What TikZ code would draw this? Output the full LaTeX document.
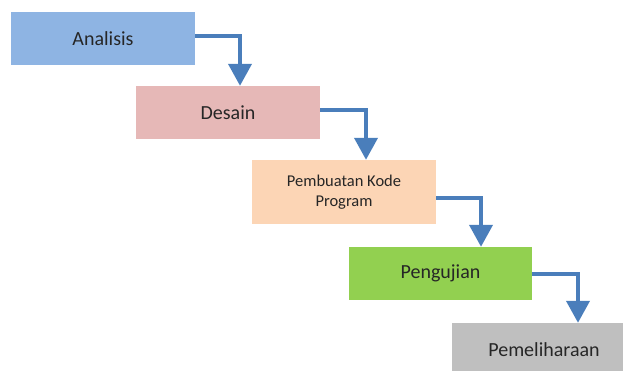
\documentclass[tikz,border=0pt]{standalone}
\usepackage{fontspec}
\setmainfont{Carlito}
\usetikzlibrary{arrows.meta}

\definecolor{biru}{RGB}{142,180,227}
\definecolor{merah}{RGB}{230,184,183}
\definecolor{oranye}{RGB}{252,213,181}
\definecolor{hijau}{RGB}{146,208,80}
\definecolor{abu}{RGB}{191,191,191}
\definecolor{panah}{RGB}{74,126,187}
\definecolor{teks}{RGB}{38,38,38}

\tikzset{
  tahap/.style={rectangle, inner sep=0pt, minimum width=184pt,
    minimum height=53pt, text=teks, font=\fontsize{20}{22}\selectfont,
    align=center},
  alur/.style={draw=panah, line width=4pt,
    -{Triangle[width=23pt,length=22pt]}}
}

\begin{document}
\begin{tikzpicture}[x=1pt,y=-1pt]
\useasboundingbox (0,0) rectangle (623,371);
\clip (0,0) rectangle (623,371);

\node[tahap, fill=biru] (analisis) at (103,38.5) {Analisis};
\node[tahap, fill=merah] (desain) at (228,112.5) {Desain};
\node[tahap, fill=oranye, minimum height=64pt,
   font=\fontsize{16.5}{19.5}\selectfont] (kode) at (344,192)
  {Pembuatan Kode\\Program};
\node[tahap, fill=hijau, minimum width=183pt] (uji) at (440.5,273.5)
  {Pengujian};
\node[tahap, fill=abu] (pelihara) at (544,349.5) {Pemeliharaan};

\draw[alur] ([yshift=2.5pt]analisis.east) -| ([xshift=12pt]desain.north);
\draw[alur] ([yshift=2.5pt]desain.east) -| ([xshift=22pt]kode.north);
\draw[alur] ([yshift=-6pt]kode.east) -| ([xshift=40.5pt]uji.north);
\draw[alur] (uji.east) -| ([xshift=34pt]pelihara.north);
\end{tikzpicture}
\end{document}
